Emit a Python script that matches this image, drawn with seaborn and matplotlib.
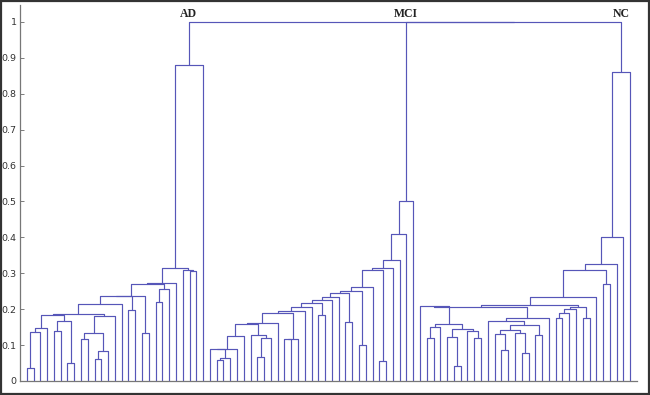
import numpy as np
import pandas as pd
import matplotlib.pyplot as plt
import seaborn as sns
from matplotlib.patches import Rectangle

# 树结构: [左, 右, 合并高度], L 为叶子
L = None

# AD
ad_base = [[[[[L, L, 0.035], L, 0.136], L, 0.148], [[L, L, 0.140], [L, L, 0.049], 0.168], 0.183],
           [[[L, L, 0.117], [[L, L, 0.061], L, 0.083], 0.134], L, 0.182], 0.186]
ad_steps = [L, [L, L, 0.198], [L, L, 0.134], [[L, L, 0.221], L, 0.255], L,
            [L, [L, L, 0.305], 0.310], L]
ad_heights = [0.214, 0.237, 0.238, 0.270, 0.272, 0.316, 0.880]

# MCI
mci_base = [[[[[L, [[L, L, 0.058], L, 0.063], 0.088], L, 0.090], L, 0.125],
             [L, [[L, L, 0.068], L, 0.119], 0.128], 0.160], L, 0.162]
mci_mid = [[mci_base, [[L, L, 0.116], L, 0.118], 0.188], L, 0.196]
mci_steps = [L, [L, L, 0.184], L, L, [L, L, 0.165], [L, L, 0.100], L,
             [L, L, 0.057], L, L, L, L]
mci_heights = [0.205, 0.216, 0.225, 0.235, 0.244, 0.252, 0.261, 0.310, 0.316,
               0.337, 0.410, 0.500]

# NC
nc_left = [L, [[[L, L, 0.120], L, 0.149],
               [[L, [L, L, 0.042], 0.123], [L, [L, L, 0.120], 0.140], 0.145], 0.158], 0.209]
nc_right = [[L, [[[L, [L, L, 0.086], 0.130], [L, [L, L, 0.077], 0.133], 0.142],
                 [L, L, 0.128], 0.155], 0.167], L, 0.175]
nc_stair = [[[[L, L, 0.175], L, 0.188], L, 0.200], [L, L, 0.176], 0.207]
nc_steps = [nc_stair, L, [L, L, 0.270], L, L, L]
nc_heights = [0.212, 0.235, 0.309, 0.326, 0.402, 0.860]

group_labels = ['AD', 'MCI', 'NC']
top_heights = [0.999, 1.0]
yticks = [0, 0.1, 0.2, 0.3, 0.4, 0.5, 0.6, 0.7, 0.8, 0.9, 1]


def chain(base, steps, heights):
    node = base
    for s, h in zip(steps, heights):
        node = [node, s, h]
    return node


ad_tree = chain(ad_base, ad_steps, ad_heights)
mci_tree = chain(mci_mid, mci_steps, mci_heights)
nc_tree = chain([nc_left, nc_right, 0.205], nc_steps, nc_heights)

rows = []


def link(xl, hl, xr, hr, h):
    k = len(rows)
    for px, py in [(xl, hl), (xl, h), (xr, h), (xr, hr)]:
        rows.append({'link': k, 'x': px, 'y': py})
    return (xl + xr) / 2


def walk(node, pos):
    if node is None:
        return pos, 0.0, pos + 1
    left, right, h = node
    xl, hl, pos = walk(left, pos)
    xr, hr, pos = walk(right, pos)
    return link(xl, hl, xr, hr, h), h, pos


x_ad, h_ad, pos = walk(ad_tree, 1)
x_mci, h_mci, pos = walk(mci_tree, pos)
x_nc, h_nc, pos = walk(nc_tree, pos)
x_mn = link(x_mci, h_mci, x_nc, h_nc, top_heights[0])
link(x_ad, h_ad, x_mn, top_heights[0], top_heights[1])
n_leaves = pos - 1

df = pd.DataFrame(rows)
df['link'] = df['link'].astype(str)

sns.set_style('white')
fig = plt.figure(figsize=(6.5, 3.95), dpi=100)
ax = fig.add_axes([20 / 650, 14 / 395, 617 / 650, 376 / 395])
sns.lineplot(data=df, x='x', y='y', units='link', estimator=None, sort=False,
             color='#5656b8', lw=0.85, ax=ax, legend=False)

for name, xc in zip(group_labels, [x_ad, x_mci, x_nc]):
    ax.text(xc, 1.023, name, ha='center', va='center', fontsize=8.5,
            fontweight='bold', family='Liberation Serif', color='#222222')

ax.set_xlim(0, n_leaves + 1)
ax.set_ylim(0, 1.047)
ax.set_xticks([])
ax.set_yticks(yticks)
ax.set_yticklabels([f'{t:g}' for t in yticks], fontsize=6.8, color='#333333')
ax.tick_params(axis='y', direction='in', length=3, width=0.6, color='#666666', pad=2.5, left=True)
ax.set_xlabel('')
ax.set_ylabel('')
for side in ['top', 'right']:
    ax.spines[side].set_visible(False)
for side in ['left', 'bottom']:
    ax.spines[side].set_color('#777777')
    ax.spines[side].set_linewidth(0.9)

fig.patches.append(Rectangle((0.002, 0.003), 0.996, 0.994, transform=fig.transFigure,
                             fill=False, edgecolor='#333333', lw=1.6))

fig.savefig('out.png', dpi=100)
